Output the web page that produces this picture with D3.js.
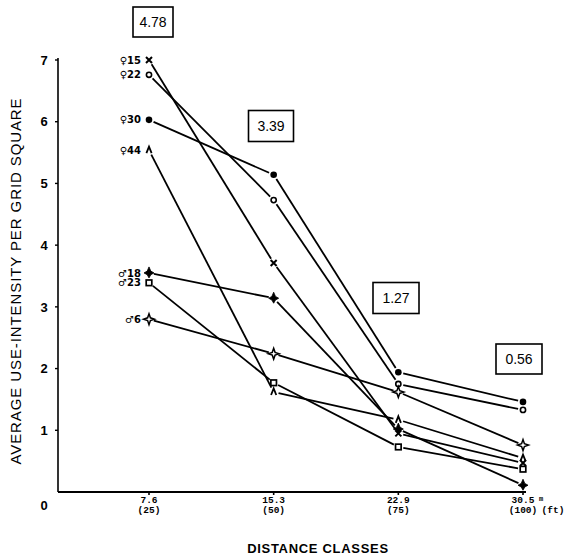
<!DOCTYPE html>
<html>
<head>
<meta charset="utf-8">
<script src="https://cdn.jsdelivr.net/npm/d3@7"></script>
<style>
  html, body { margin: 0; padding: 0; background: #fff; }
  svg { display: block; }
</style>
</head>
<body>
<svg id="chart" width="566" height="556"></svg>
<script>
// ---- data ----
const categories = ["7.6", "15.3", "22.9", "30.5"];
const categoryFt = ["(25)", "(50)", "(75)", "(100)"];
const seriesNames = ["♀15", "♀22", "♀30", "♀44", "♂18", "♂23", "♂6"];
const seriesMarkers = ["cross", "circleOpen", "circleFilled", "caret", "star4Filled", "square", "star4Open"];
const female15 = [7.00, 3.71, 0.95, 0.47];
const female22 = [6.76, 4.73, 1.75, 1.33];
const female30 = [6.03, 5.14, 1.94, 1.46];
const female44 = [5.54, 1.62, 1.17, 0.55];
const male18   = [3.55, 3.14, 1.02, 0.11];
const male23   = [3.39, 1.77, 0.73, 0.37];
const male6    = [2.80, 2.24, 1.62, 0.76];
const seriesValues = [female15, female22, female30, female44, male18, male23, male6];
const averageLabels = ["4.78", "3.39", "1.27", "0.56"];
const yTicks = [1, 2, 3, 4, 5, 6, 7];

// ---- layout ----
const svg = d3.select("#chart");
const x = d3.scalePoint().domain(categories).range([149, 523]);
const y = d3.scaleLinear().domain([0, 7]).range([492, 60]);
const axisLeftX = 58;

// axes lines
svg.append("line").attr("x1", axisLeftX).attr("x2", axisLeftX).attr("y1", y(0)).attr("y2", y(7) - 2)
  .attr("stroke", "#000").attr("stroke-width", 1.6);
svg.append("line").attr("x1", axisLeftX).attr("x2", 526).attr("y1", y(0)).attr("y2", y(0))
  .attr("stroke", "#000").attr("stroke-width", 1.8);

// y ticks
const yAxisG = svg.append("g");
yTicks.forEach(t => {
  yAxisG.append("line").attr("x1", axisLeftX - 3).attr("x2", axisLeftX).attr("y1", y(t)).attr("y2", y(t))
    .attr("stroke", "#000").attr("stroke-width", 1.4);
  yAxisG.append("text").attr("x", 44).attr("y", y(t)).attr("dy", "0.36em")
    .attr("text-anchor", "middle").attr("font-family", "Liberation Sans, Arial, sans-serif")
    .attr("font-weight", "bold").attr("font-size", 13).text(t);
});
yAxisG.append("text").attr("x", 44).attr("y", 505).attr("dy", "0.36em")
  .attr("text-anchor", "middle").attr("font-family", "Liberation Sans, Arial, sans-serif")
  .attr("font-weight", "bold").attr("font-size", 13).text("0");

// x ticks
categories.forEach((c, i) => {
  const cx = x(c);
  svg.append("line").attr("x1", cx).attr("x2", cx).attr("y1", y(0)).attr("y2", y(0) + 3)
    .attr("stroke", "#000").attr("stroke-width", 1.6);
  svg.append("text").attr("x", cx).attr("y", 503).attr("text-anchor", "middle")
    .attr("font-family", "Liberation Mono, DejaVu Sans Mono, monospace").attr("font-weight", "bold")
    .attr("font-size", 9.5).text(c);
  svg.append("text").attr("x", cx).attr("y", 513).attr("text-anchor", "middle")
    .attr("font-family", "Liberation Mono, DejaVu Sans Mono, monospace").attr("font-weight", "bold")
    .attr("font-size", 9.5).text(categoryFt[i]);
});
svg.append("text").attr("x", 541).attr("y", 501).attr("text-anchor", "middle")
  .attr("font-family", "Liberation Mono, monospace").attr("font-weight", "bold").attr("font-size", 7).text("m");
svg.append("text").attr("x", 553).attr("y", 513).attr("text-anchor", "middle")
  .attr("font-family", "Liberation Mono, monospace").attr("font-weight", "bold").attr("font-size", 9.5).text("(ft)");

// axis titles
svg.append("text").attr("transform", "translate(21,281) rotate(-90)").attr("text-anchor", "middle")
  .attr("font-family", "Liberation Sans, Arial, sans-serif").attr("font-size", 15).attr("letter-spacing", 0.9)
  .text("AVERAGE USE-INTENSITY PER GRID SQUARE");
svg.append("text").attr("x", 318).attr("y", 553).attr("text-anchor", "middle")
  .attr("font-family", "Liberation Sans Narrow, Liberation Sans, Arial, sans-serif").attr("font-weight", "bold")
  .attr("font-size", 13).attr("letter-spacing", 0.7).text("DISTANCE CLASSES");

// lines (segments shortened near markers)
const gap = 5;
const linesG = svg.append("g");
seriesValues.forEach(vals => {
  for (let i = 0; i < vals.length - 1; i++) {
    const x1 = x(categories[i]), y1 = y(vals[i]);
    const x2 = x(categories[i + 1]), y2 = y(vals[i + 1]);
    const len = Math.hypot(x2 - x1, y2 - y1);
    const ux = (x2 - x1) / len, uy = (y2 - y1) / len;
    linesG.append("line")
      .attr("x1", x1 + ux * gap).attr("y1", y1 + uy * gap)
      .attr("x2", x2 - ux * gap).attr("y2", y2 - uy * gap)
      .attr("stroke", "#000").attr("stroke-width", 1.8);
  }
});

// markers
function drawMarker(g, type, cx, cy) {
  const m = g.append("g").attr("transform", `translate(${cx},${cy})`);
  switch (type) {
    case "cross":
      m.append("path").attr("d", "M-3,-3L3,3M-3,3L3,-3").attr("stroke", "#000").attr("stroke-width", 2);
      break;
    case "circleOpen":
      m.append("circle").attr("r", 2.6).attr("fill", "#fff").attr("stroke", "#000").attr("stroke-width", 1.6);
      break;
    case "circleFilled":
      m.append("circle").attr("r", 3.3).attr("fill", "#000");
      break;
    case "caret":
      m.append("path").attr("d", "M-2.6,3L0,-3.5L2.6,3").attr("fill", "none").attr("stroke", "#000").attr("stroke-width", 1.8);
      break;
    case "star4Filled":
      m.append("path").attr("d", "M0,-6L1.8,-1.8L5,0L1.8,1.8L0,5L-1.8,1.8L-5,0L-1.8,-1.8Z").attr("fill", "#000")
        .attr("stroke", "#000").attr("stroke-width", 0.8);
      break;
    case "square":
      m.append("rect").attr("x", -2.8).attr("y", -2.8).attr("width", 5.6).attr("height", 5.6)
        .attr("fill", "#fff").attr("stroke", "#000").attr("stroke-width", 1.7);
      break;
    case "star4Open":
      m.append("path").attr("d", "M0,-5.5L1.4,-1.4L5.5,0L1.4,1.4L0,5.5L-1.4,1.4L-5.5,0L-1.4,-1.4Z").attr("fill", "#fff")
        .attr("stroke", "#000").attr("stroke-width", 1.5);
      break;
  }
}
const markersG = svg.append("g");
seriesValues.forEach((vals, s) => {
  vals.forEach((v, i) => drawMarker(markersG, seriesMarkers[s], x(categories[i]), y(v)));
});

// series labels at left
seriesValues.forEach((vals, s) => {
  svg.append("text").attr("x", x(categories[0]) - 8).attr("y", y(vals[0])).attr("dy", "0.36em")
    .attr("text-anchor", "end").attr("font-family", "DejaVu Sans, sans-serif").attr("font-weight", "bold")
    .attr("font-size", 10).text(seriesNames[s]);
});

// average boxes
const boxLayout = [
  { cx: 153, cy: 22, w: 40, h: 30 },
  { cx: 271, cy: 126, w: 45, h: 31 },
  { cx: 396, cy: 298, w: 46, h: 31 },
  { cx: 519, cy: 359, w: 46, h: 30 }
];
averageLabels.forEach((lab, i) => {
  const b = boxLayout[i];
  svg.append("rect").attr("x", b.cx - b.w / 2).attr("y", b.cy - b.h / 2).attr("width", b.w).attr("height", b.h)
    .attr("fill", "none").attr("stroke", "#000").attr("stroke-width", 1.6);
  svg.append("text").attr("x", b.cx).attr("y", b.cy).attr("dy", "0.36em").attr("text-anchor", "middle")
    .attr("font-family", "Liberation Sans, Arial, sans-serif").attr("font-size", 14).text(lab);
});
</script>
</body>
</html>
